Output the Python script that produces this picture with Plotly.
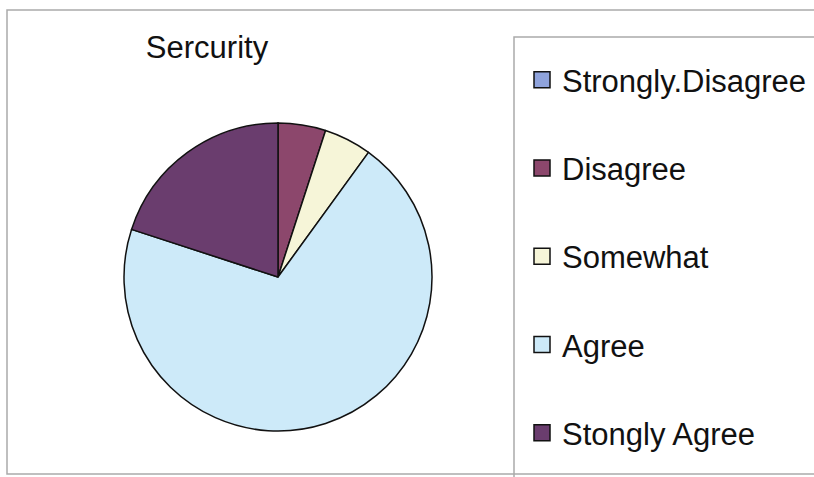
import plotly.graph_objects as go

title_text = "Sercurity"
categories = ["Strongly.Disagree", "Disagree", "Somewhat", "Agree", "Stongly Agree"]
values = [0, 1, 1, 14, 4]
colors = ["#8FA3DC", "#8C476C", "#F6F5D8", "#CDEAF9", "#6A3D6E"]

W, H = 814, 477

fig = go.Figure()

fig.add_trace(go.Pie(
    labels=categories,
    values=values,
    sort=False,
    direction="clockwise",
    rotation=0,
    marker=dict(colors=colors, line=dict(color="#111111", width=1.5)),
    textinfo="none",
    hoverinfo="label+value+percent",
    showlegend=False,
    domain=dict(x=[124 / W, 432 / W], y=[(477 - 431) / H, (477 - 123) / H]),
))

# legend entries (one group each so they can be spaced like the original)
for i, (cat, col) in enumerate(zip(categories, colors)):
    fig.add_trace(go.Scatter(
        x=[None], y=[None],
        mode="markers",
        name=cat,
        legendgroup=f"g{i}",
        marker=dict(symbol="square", size=16, color=col,
                    line=dict(color="#111111", width=1.5)),
        hoverinfo="skip",
    ))

fig.update_layout(
    width=W, height=H,
    margin=dict(l=0, r=0, t=0, b=0),
    paper_bgcolor="white",
    plot_bgcolor="white",
    font=dict(family="Liberation Sans, Arial, sans-serif", color="#111111"),
    xaxis=dict(visible=False),
    yaxis=dict(visible=False),
    title=dict(text=title_text, x=207 / W, xanchor="center", xref="paper",
               y=1 - 47 / H, yanchor="middle", yref="paper",
               font=dict(size=31, color="#111111")),
    legend=dict(
        x=522 / W, xanchor="left", xref="paper",
        y=1 - 53 / H, yanchor="top", yref="paper",
        font=dict(size=31, color="#111111"),
        tracegroupgap=45,
        bgcolor="rgba(0,0,0,0)",
        itemclick=False, itemdoubleclick=False,
    ),
    shapes=[
        # outer chart frame
        dict(type="rect", xref="paper", yref="paper",
             x0=7 / W, x1=1.05, y0=1 - 474 / H, y1=1 - 10 / H,
             line=dict(color="#AAAAAA", width=1.5), layer="below"),
        # legend frame
        dict(type="rect", xref="paper", yref="paper",
             x0=514 / W, x1=1.05, y0=-0.05, y1=1 - 37 / H,
             line=dict(color="#AAAAAA", width=1.5), layer="below"),
    ],
)

fig.write_html("out.html")
